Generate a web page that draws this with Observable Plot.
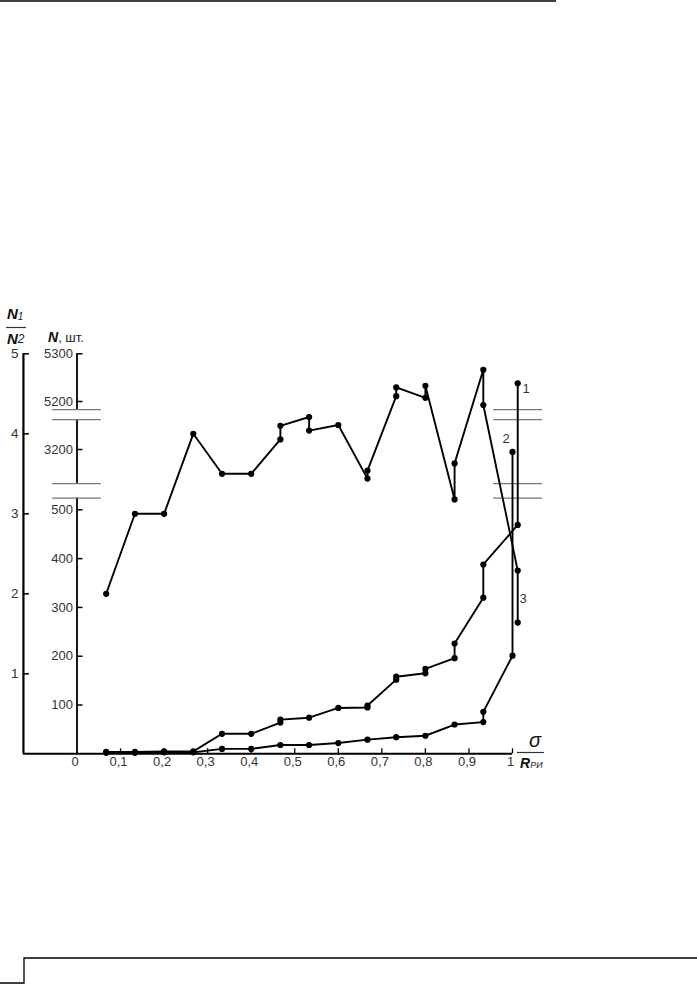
<!DOCTYPE html>
<html><head><meta charset="utf-8">
<script src="https://cdn.jsdelivr.net/npm/d3@7"></script>
<script src="https://cdn.jsdelivr.net/npm/@observablehq/plot@0.6"></script>
<style>
html,body{margin:0;padding:0;background:#fff;}
svg{display:block;}
</style></head><body>
<div id="chart"></div>
<script>
// ---- axis ticks and labels ----
const ratioTicks = [1, 2, 3, 4, 5];
const ratioTickLabels = ["1", "2", "3", "4", "5"];
const nTicks = [100, 200, 300, 400, 500, 3200, 5200, 5300];
const nTickLabels = ["100", "200", "300", "400", "500", "3200", "5200", "5300"];
const xTicks = [0, 0.1, 0.2, 0.3, 0.4, 0.5, 0.6, 0.7, 0.8, 0.9, 1];
const xTickLabels = ["0", "0,1", "0,2", "0,3", "0,4", "0,5", "0,6", "0,7", "0,8", "0,9", "1"];

// ---- broken N axis (piecewise scale anchors, N -> N1/N2 units) ----
const nScaleDomain = [0, 524, 3130, 3261, 5183, 5300];
const nScaleRange = [0, 3.196, 3.376, 4.176, 4.3025, 5.0];
const nAxisPieces = [[0, 524], [3130, 3261], [5183, 5300]];
const nBreaks = [524, 3130, 3261, 5183];

// ---- curve 1: N (upper of the lower curves) ----
const curve1X = [0.067, 0.133, 0.2, 0.267, 0.333, 0.4, 0.467, 0.467, 0.533, 0.6, 0.667, 0.667, 0.733, 0.733, 0.8, 0.8, 0.867, 0.867, 0.933, 0.933, 1.012, 1.012];
const curve1N = [4, 4, 5, 5, 41, 41, 64, 70, 74, 94, 95, 99, 152, 158, 165, 174, 196, 226, 320, 388, 469, 5238];

// ---- curve 2: N (lowest curve) ----
const curve2X = [0.067, 0.133, 0.2, 0.267, 0.333, 0.4, 0.467, 0.533, 0.6, 0.667, 0.733, 0.8, 0.867, 0.933, 0.933, 1.0, 1.0];
const curve2N = [2, 2, 3, 3, 10, 10, 18, 18, 22, 29, 34, 37, 60, 65, 86, 201, 3195];

// ---- curve 3: N1/N2 ratio ----
const curve3X = [0.067, 0.133, 0.2, 0.267, 0.333, 0.4, 0.467, 0.467, 0.533, 0.533, 0.6, 0.667, 0.667, 0.733, 0.733, 0.8, 0.8, 0.867, 0.867, 0.933, 0.933, 1.012, 1.012];
const curve3R = [2.0, 3.0, 3.0, 4.0, 3.5, 3.5, 3.93, 4.1, 4.21, 4.04, 4.11, 3.44, 3.54, 4.47, 4.58, 4.45, 4.6, 3.18, 3.63, 4.8, 4.36, 2.29, 1.64];

// ---- layout constants ----
const LEFT_AXIS = -0.123;   // position of N1/N2 axis in σ/R units
const RIGHT_BREAK = 1.013;  // centre of right-hand break marks
const BREAK_HALF = 0.056;
const FONT = "'Liberation Sans', Arial, sans-serif";

const nScale = d3.scaleLinear().domain(nScaleDomain).range(nScaleRange);

const rows = (xs, ys, f) => xs.map((x, i) => ({x, y: f(ys[i])}));
const c1 = rows(curve1X, curve1N, nScale);
const c2 = rows(curve2X, curve2N, nScale);
const c3 = rows(curve3X, curve3R, v => v);
const breakRows = nBreaks.flatMap(n => [{n, c: 0}, {n, c: RIGHT_BREAK}]);

const lineStyle = {x: "x", y: "y", stroke: "#000", strokeWidth: 1.9};
const dotStyle = {x: "x", y: "y", r: 3.1, fill: "#000"};

const chart = Plot.plot({
  width: 697,
  height: 986,
  style: {fontFamily: FONT, background: "#fff", color: "#000", overflow: "visible"},
  x: {domain: [0, 1], range: [76.5, 512], axis: null},
  y: {domain: [0, 5], range: [753.3, 353.3], axis: null},
  marks: [
    // axes lines
    Plot.ruleX([LEFT_AXIS], {y1: 0, y2: 5, stroke: "#000", strokeWidth: 2.2}),
    Plot.ruleY([0], {x1: LEFT_AXIS, x2: 1, stroke: "#000", strokeWidth: 2}),
    Plot.ruleX(nAxisPieces, {x: 0, y1: d => nScale(d[0]), y2: d => nScale(d[1]), stroke: "#000", strokeWidth: 1.8}),
    // break marks
    Plot.ruleY(breakRows, {y: d => nScale(d.n), x1: d => d.c - BREAK_HALF, x2: d => d.c + BREAK_HALF, stroke: "#777", strokeWidth: 1.3}),
    // ticks
    Plot.ruleY(ratioTicks, {y: d => d, x1: LEFT_AXIS, x2: LEFT_AXIS, insetRight: -6, stroke: "#000", strokeWidth: 1.5}),
    Plot.ruleY(nTicks, {y: d => nScale(d), x1: 0, x2: 0, insetRight: -6, stroke: "#000", strokeWidth: 1.5}),
    Plot.ruleX(xTicks.slice(1), {x: d => d, y1: 0, y2: 0, insetTop: -5, stroke: "#000", strokeWidth: 1.3}),
    // tick labels
    Plot.text(ratioTicks, {x: LEFT_AXIS, y: d => d, text: (d, i) => ratioTickLabels[i], textAnchor: "end", dx: -5, fontSize: 13.5, fill: "#333"}),
    Plot.text(nTicks, {x: 0, y: d => nScale(d), text: (d, i) => nTickLabels[i], textAnchor: "end", dx: -4, fontSize: 13, fill: "#333"}),
    Plot.text(xTicks, {x: d => d, y: 0, text: (d, i) => xTickLabels[i], lineAnchor: "top", dy: 3, dx: -2, fontSize: 13, fill: "#333"}),
    // curves
    Plot.line(c3, lineStyle),
    Plot.line(c1, lineStyle),
    Plot.line(c2, lineStyle),
    Plot.dot(c3, dotStyle),
    Plot.dot(c1, dotStyle),
    Plot.dot(c2, dotStyle)
  ]
});

document.getElementById("chart").appendChild(chart);

// ---- annotations (rich text) ----
const svg = d3.select(chart);
const g = svg.append("g").attr("font-family", FONT);

function rich(x, y, parts, anchor) {
  const t = g.append("text").attr("x", x).attr("y", y).attr("text-anchor", anchor || "start");
  parts.forEach(p => {
    const s = t.append("tspan").text(p.t).attr("font-size", p.s).attr("fill", p.c || "#000");
    if (p.i) s.attr("font-style", "italic");
    if (p.b) s.attr("font-weight", "bold");
    if (p.dy) s.attr("dy", p.dy);
    if (p.dx) s.attr("dx", p.dx);
  });
  return t;
}

// N1 / N2 fraction (left axis title)
rich(7, 319, [{t: "N", s: 15, i: 1, b: 1, c: "#111"}, {t: "1", s: 10, i: 1, dy: 1, c: "#222"}]);
g.append("line").attr("x1", 6).attr("x2", 26).attr("y1", 327.5).attr("y2", 327.5).attr("stroke", "#333").attr("stroke-width", 1.2);
rich(7, 344, [{t: "N", s: 15, i: 1, b: 1, c: "#111"}, {t: "2", s: 12, i: 1, dy: -1, c: "#222"}]);

// N, шт.
rich(48, 342, [{t: "N", s: 14, i: 1, b: 1, c: "#111"}, {t: ", шт.", s: 13, c: "#222"}]);

// σ / R_РИ
rich(535, 747, [{t: "σ", s: 20, i: 1, c: "#111"}], "middle");
g.append("line").attr("x1", 517).attr("x2", 544).attr("y1", 752.5).attr("y2", 752.5).attr("stroke", "#333").attr("stroke-width", 1.2);
rich(520, 768, [{t: "R", s: 14, i: 1, b: 1, c: "#111"}, {t: "РИ", s: 9, i: 1, c: "#222"}]);

// curve labels
rich(526, 393, [{t: "1", s: 13, c: "#333"}], "middle");
rich(506, 443, [{t: "2", s: 13, c: "#333"}], "middle");
rich(523, 603, [{t: "3", s: 13, c: "#333"}], "middle");

// page decorations
svg.append("line").attr("x1", 0).attr("x2", 556).attr("y1", 1).attr("y2", 1).attr("stroke", "#000").attr("stroke-width", 1.5);
svg.append("polyline").attr("points", "697,958 24,958 24,983 0,983").attr("fill", "none").attr("stroke", "#000").attr("stroke-width", 1.3);
</script>
</body></html>
